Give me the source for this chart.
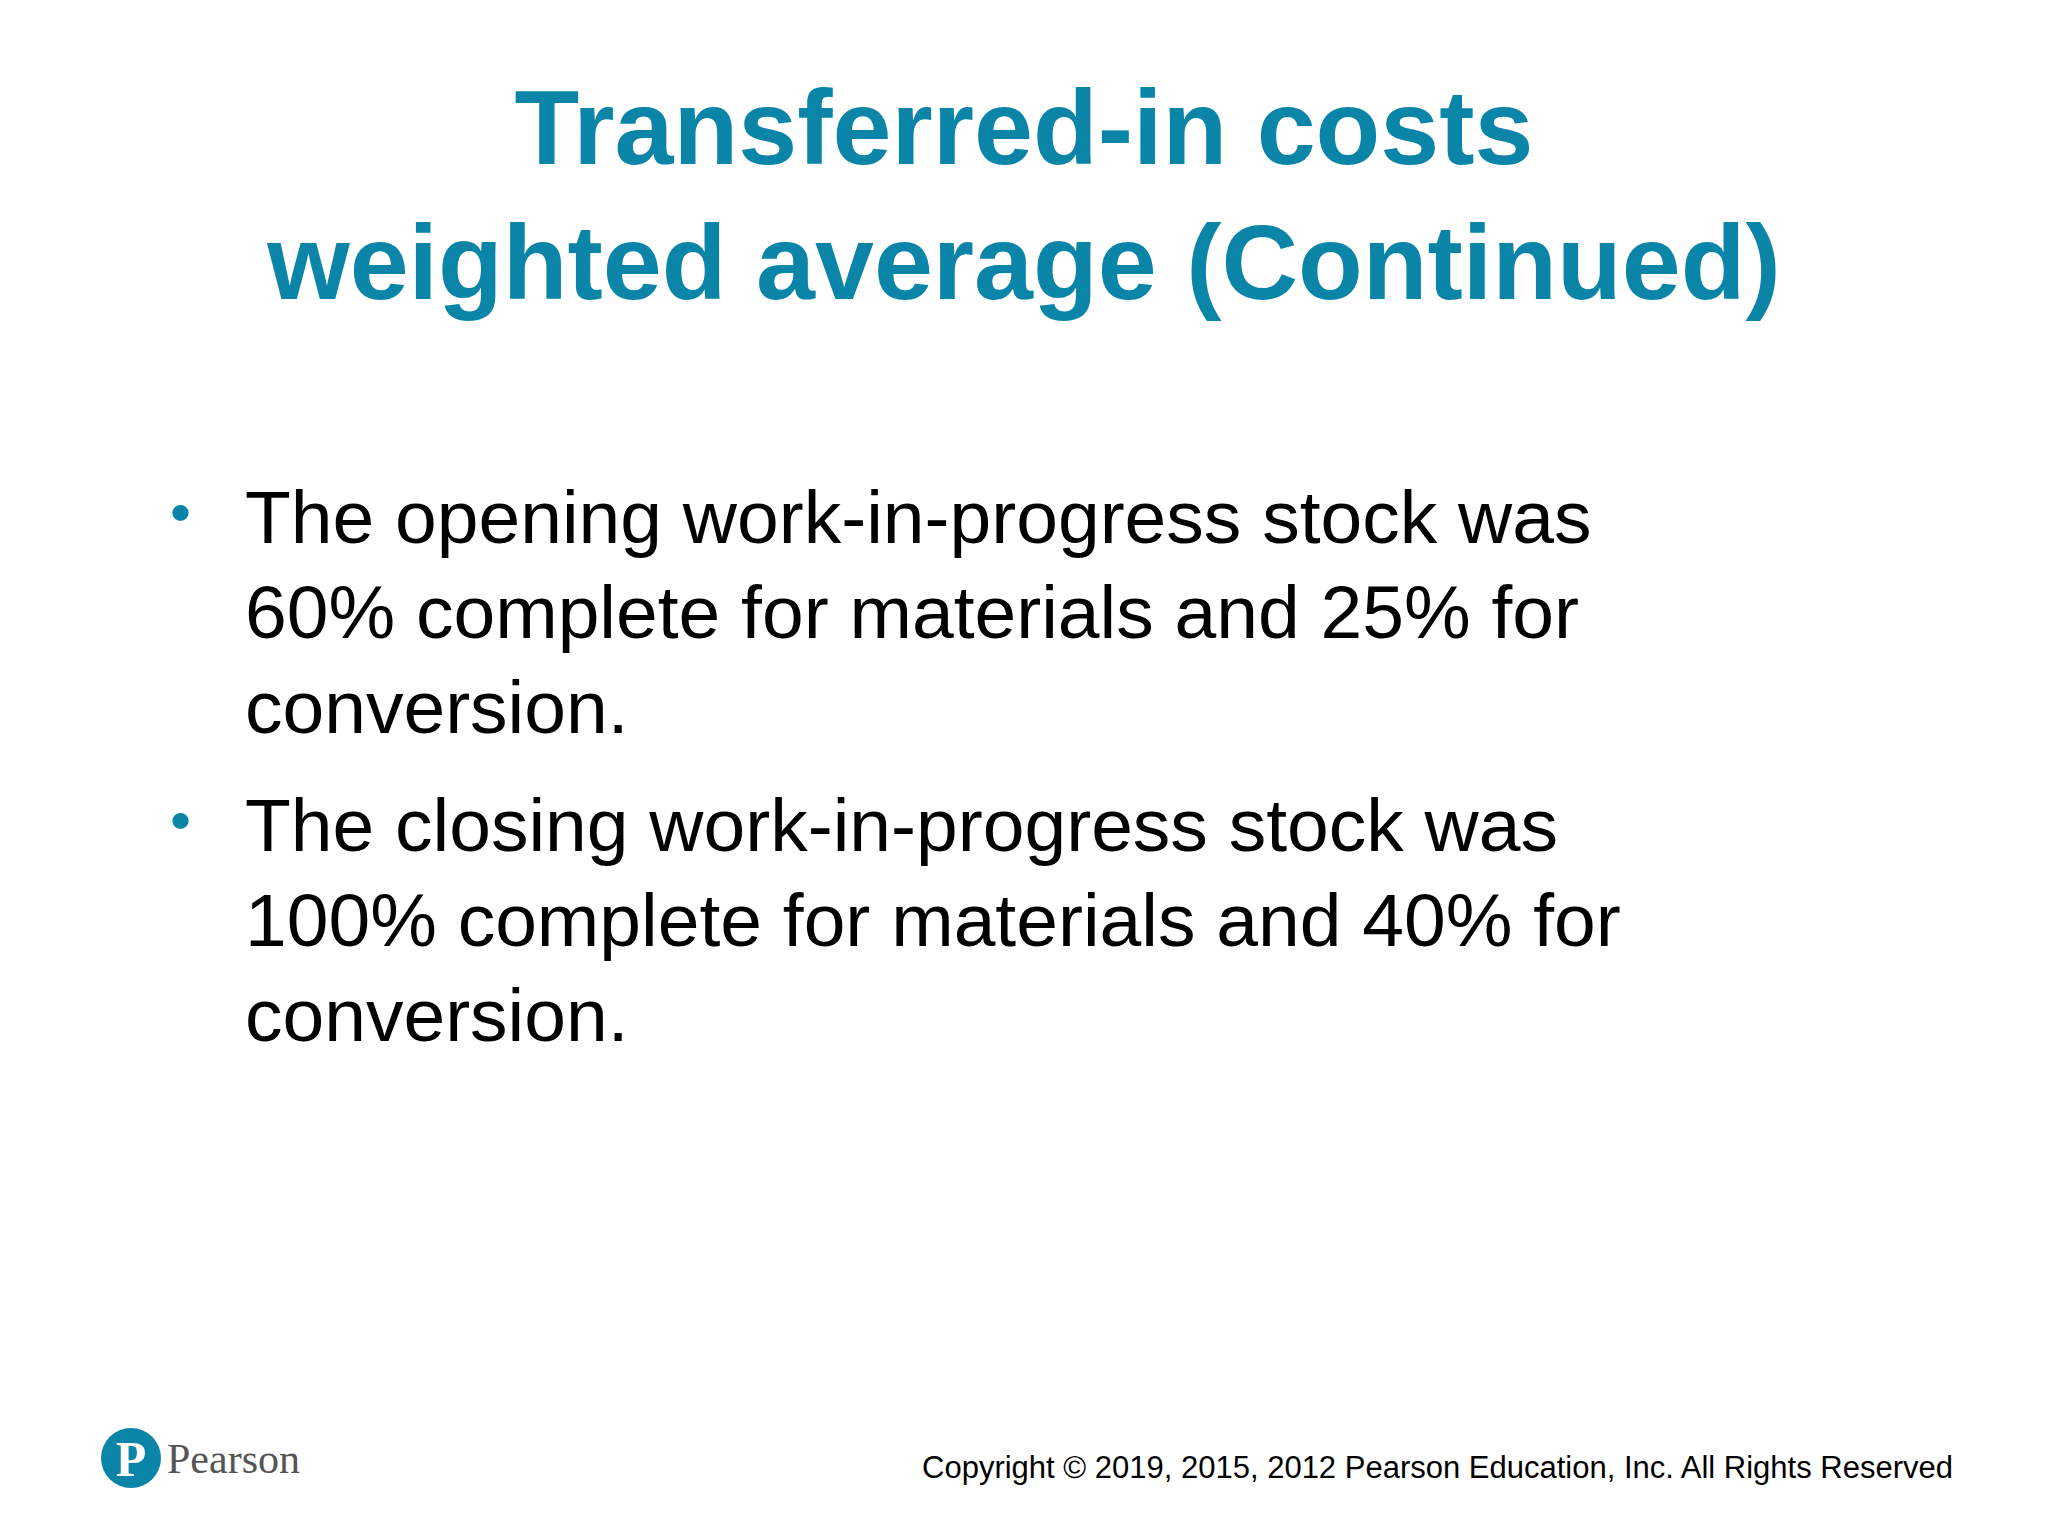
<!DOCTYPE html>
<html><head><meta charset="utf-8">
<script src="https://cdn.jsdelivr.net/npm/chart.js@4"></script>
<style>
html,body{margin:0;padding:0;background:#fff;}
#slide{position:relative;width:2048px;height:1536px;overflow:hidden;font-family:"Liberation Sans",Arial,sans-serif;}
.title{position:absolute;left:0;width:2048px;text-align:center;color:#0a85a8;font-weight:bold;font-size:106px;line-height:135px;top:60px;}
.b{position:absolute;left:245px;width:1700px;font-size:75px;line-height:95px;color:#000;}
.dot{position:absolute;left:170px;color:#0a85a8;font-size:60px;}
.copy{position:absolute;right:95px;top:1450px;font-size:31px;color:#000;}
.logo{position:absolute;left:101px;top:1428px;width:60px;height:60px;border-radius:50%;background:#0a85a8;color:#fff;font-family:"Liberation Serif",serif;font-weight:bold;font-size:50px;line-height:62px;text-align:center;}
.pear{position:absolute;left:167px;top:1435px;font-family:"Liberation Serif",serif;font-size:42px;color:#555;}
</style></head><body>
<div id="slide">
<div class="title">Transferred-in costs<br>weighted average (Continued)</div>
<div class="dot" style="top:478px">•</div>
<div class="b" style="top:470px">The opening work-in-progress stock was<br>60% complete for materials and 25% for<br>conversion.</div>
<div class="dot" style="top:786px">•</div>
<div class="b" style="top:778px">The closing work-in-progress stock was<br>100% complete for materials and 40% for<br>conversion.</div>
<div class="logo">P</div>
<div class="pear">Pearson</div>
<div class="copy">Copyright © 2019, 2015, 2012 Pearson Education, Inc. All Rights Reserved</div>
</div>
</body></html>
